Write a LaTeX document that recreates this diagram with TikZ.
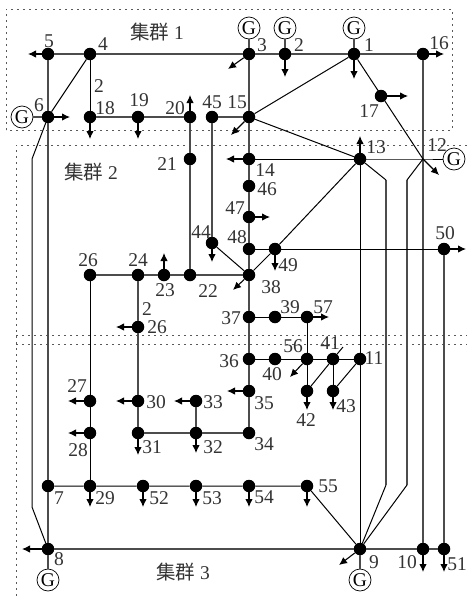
\documentclass[tikz,border=0pt]{standalone}
\usepackage{fontspec}
\setmainfont{Liberation Serif}
\newfontfamily\cjk{Noto Sans CJK SC}
\usepackage{tikz}
\usetikzlibrary{arrows.meta}

\begin{document}
\begin{tikzpicture}[x=1pt,y=-1pt,
    bus/.style={circle,fill=black,inner sep=0pt,minimum size=12.5pt},
    num/.style={inner sep=0pt,text=black!80,font=\fontsize{19.5}{19.5}\selectfont},
    area/.style={inner sep=0pt,text=black!80,font=\fontsize{19.5}{19.5}\selectfont},
    gen/.style={circle,draw=black,fill=white,line width=0.7pt,inner sep=0pt,minimum size=22pt,font=\fontsize{19.5}{19.5}\selectfont},
    main/.style={draw=black!70,line width=1.3pt},
    tie/.style={draw=black,line width=1pt},
    load/.style={draw=black,line width=1.1pt,-{Latex[length=8pt,width=7.5pt]}},
    zone/.style={draw=black!65,line width=1pt,dash pattern=on 2pt off 4pt}]
    \useasboundingbox (0,0) rectangle (468,600);

    \draw[zone] (6,130) -- (6,9) -- (452,9) -- (452,130) -- cycle;
    \draw[zone] (467,145) -- (16,145) -- (16,596);
    \draw[zone] (16,335) -- (467,335);
    \draw[zone] (16,344) -- (467,344);

    \node[bus] (b1) at (354,54) {};     \node[num] (t1) at (369,45) {1};
    \node[bus] (b2) at (285,54) {};     \node[num] (t2) at (299,45) {2};
    \node[bus] (b3) at (249,54) {};     \node[num] (t3) at (262,45) {3};
    \node[bus] (b4) at (90,54) {};      \node[num] (t4) at (103,44) {4};
    \node[bus] (b5) at (48,54) {};      \node[num] (t5) at (49,41) {5};
    \node[bus] (b6) at (48,117) {};     \node[num] (t6) at (39,105) {6};
    \node[bus] (b7) at (48,486) {};     \node[num] (t7) at (59,498) {7};
    \node[bus] (b8) at (48,549) {};     \node[num] (t8) at (59,559) {8};
    \node[bus] (b9) at (360,549) {};    \node[num] (t9) at (374,562) {9};
    \node[bus] (b10) at (423,549) {};   \node[num] (t10) at (407,562) {10};
    \node[bus] (b11) at (360,359) {};   \node[num] (t11) at (374,358) {11};
    \coordinate (b12) at (423,159);     \node[num] (t12) at (437,145) {12};
    \node[bus] (b13) at (360,159) {};   \node[num] (t13) at (376,147) {13};
    \node[bus] (b14) at (249,159) {};   \node[num] (t14) at (265,170) {14};
    \node[bus] (b15) at (249,117) {};   \node[num] (t15) at (237,102) {15};
    \node[bus] (b16) at (423,54) {};    \node[num] (t16) at (439,43) {16};
    \node[bus] (b17) at (381,96) {};    \node[num] (t17) at (369,111) {17};
    \node[bus] (b18) at (90,117) {};    \node[num] (t18) at (105,108) {18};
    \node[num] (t18a) at (99,86) {2};
    \node[bus] (b19) at (138,117) {};   \node[num] (t19) at (139,100) {19};
    \node[bus] (b20) at (190,117) {};   \node[num] (t20) at (175,108) {20};
    \node[bus] (b21) at (190,159) {};   \node[num] (t21) at (167,164) {21};
    \node[bus] (b22) at (190,275) {};   \node[num] (t22) at (208,291) {22};
    \node[bus] (b23) at (164,275) {};   \node[num] (t23) at (165,290) {23};
    \node[bus] (b24) at (138,275) {};   \node[num] (t24) at (138,260) {24};
    \node[bus] (b26) at (90,275) {};    \node[num] (t26) at (88,260) {26};
    \node[bus] (b26a) at (138,327) {};  \node[num] (t26a) at (157,327) {26};
    \node[num] (t26b) at (147,309) {2};
    \node[bus] (b27) at (90,401) {};    \node[num] (t27) at (77,386) {27};
    \node[bus] (b28) at (90,433) {};    \node[num] (t28) at (78,450) {28};
    \node[bus] (b29) at (90,486) {};    \node[num] (t29) at (105,498) {29};
    \node[bus] (b30) at (138,401) {};   \node[num] (t30) at (156,402) {30};
    \node[bus] (b31) at (138,433) {};   \node[num] (t31) at (152,447) {31};
    \node[bus] (b32) at (196,433) {};   \node[num] (t32) at (213,447) {32};
    \node[bus] (b33) at (196,401) {};   \node[num] (t33) at (213,402) {33};
    \node[bus] (b34) at (249,433) {};   \node[num] (t34) at (264,444) {34};
    \node[bus] (b35) at (249,391) {};   \node[num] (t35) at (264,403) {35};
    \node[bus] (b36) at (249,359) {};   \node[num] (t36) at (229,361) {36};
    \node[bus] (b37) at (249,317) {};   \node[num] (t37) at (231,318) {37};
    \node[bus] (b38) at (249,275) {};   \node[num] (t38) at (271,287) {38};
    \node[bus] (b39) at (275,317) {};   \node[num] (t39) at (290,307) {39};
    \node[bus] (b40) at (275,359) {};   \node[num] (t40) at (272,374) {40};
    \node[bus] (b41) at (333,359) {};   \node[num] (t41) at (330,343) {41};
    \node[bus] (b42) at (307,391) {};   \node[num] (t42) at (306,420) {42};
    \node[bus] (b43) at (333,391) {};   \node[num] (t43) at (346,406) {43};
    \node[bus] (b44) at (212,243) {};   \node[num] (t44) at (201,232) {44};
    \node[bus] (b45) at (212,117) {};   \node[num] (t45) at (212,102) {45};
    \node[bus] (b46) at (249,186) {};   \node[num] (t46) at (267,189) {46};
    \node[bus] (b47) at (249,217) {};   \node[num] (t47) at (235,208) {47};
    \node[bus] (b48) at (249,249) {};   \node[num] (t48) at (237,237) {48};
    \node[bus] (b49) at (275,249) {};   \node[num] (t49) at (288,265) {49};
    \node[bus] (b50) at (444,249) {};   \node[num] (t50) at (445,233) {50};
    \node[bus] (b51) at (444,549) {};   \node[num] (t51) at (457,564) {51};
    \node[bus] (b52) at (143,486) {};   \node[num] (t52) at (159,498) {52};
    \node[bus] (b53) at (196,486) {};   \node[num] (t53) at (212,498) {53};
    \node[bus] (b54) at (249,486) {};   \node[num] (t54) at (264,497) {54};
    \node[bus] (b55) at (307,486) {};   \node[num] (t55) at (328,486) {55};
    \node[bus] (b56) at (307,359) {};   \node[num] (t56) at (293,346) {56};
    \node[bus] (b57) at (307,317) {};   \node[num] (t57) at (323,307) {57};

    \node[gen] (g1) at (354,28) {G};
    \node[gen] (g2) at (285,28) {G};
    \node[gen] (g3) at (249,28) {G};
    \node[gen] (g6) at (22,117) {G};
    \node[gen] (g8) at (48,580) {G};
    \node[gen] (g9) at (360,580) {G};
    \node[gen] (g12) at (454,159) {G};

    \node[area] (c1) at (157,32) {{\cjk 集群} 1};
    \node[area] (c2) at (91,172) {{\cjk 集群} 2};
    \node[area] (c3) at (183,572) {{\cjk 集群} 3};

    \coordinate (k6a) at (32,159);
    \coordinate (k6b) at (32,507);
    \coordinate (k13a) at (386,180);
    \coordinate (k13b) at (386,485);
    \coordinate (k12a) at (407,180);
    \coordinate (k12b) at (407,485);

    \draw[main] (g1) -- (b1);
    \draw[main] (g2) -- (b2);
    \draw[main] (g3) -- (b3);
    \draw[main] (g6) -- (b6);
    \draw[main] (g8) -- (b8);
    \draw[main] (g9) -- (b9);
    \draw[main] (b5) -- (b4) -- (b3) -- (b2) -- (b1) -- (b16);
    \draw[main] (b5) -- (b6) -- (b7) -- (b8) -- (b9) -- (b10) -- (b51);
    \draw[main] (b18) -- (b19) -- (b20);
    \draw[main] (b45) -- (b15);
    \draw[main] (b20) -- (b21) -- (b22);
    \draw[main] (b45) -- (b44);
    \draw[main] (b3) -- (b15) -- (b14) -- (b46) -- (b47) -- (b48) -- (b38) -- (b37) -- (b36) -- (b35) -- (b34);
    \draw[main] (b16) -- (b12) -- (b10);
    \draw[main] (b50) -- (b51);
    \draw[main] (b26) -- (b24) -- (b23) -- (b22) -- (b38);
    \draw[main] (b24) -- (b26a) -- (b30) -- (b31) -- (b32) -- (b34);
    \draw[main] (b33) -- (b32);
    \draw[main] (k13a) -- (k13b);
    \draw[main] (k12a) -- (k12b);
    \draw[tie] (b13) -- (k13a);
    \draw[tie] (b12) -- (k12a);
    \draw[tie] (k13b) -- (b9);
    \draw[tie] (k12b) -- (b9);
    \draw[tie] (b4) -- (b6);
    \draw[tie] (b4) -- (b18);
    \draw[tie] (b6) -- (k6a) -- (k6b) -- (b8);
    \draw[tie] (b1) -- (b15) -- (b13);
    \draw[tie] (b1) -- (b12);
    \draw[tie] (b14) -- (b13) -- (b12) -- (g12);
    \draw[tie] (b13) -- (b9);
    \draw[tie] (b13) -- (b49) -- (b38);
    \draw[tie] (b44) -- (b38);
    \draw[tie] (b48) -- (b49) -- (b50);
    \draw[tie] (b37) -- (b39) -- (b57) -- (b56) -- (b42);
    \draw[tie] (b36) -- (b40) -- (b56) -- (b41) -- (b11);
    \draw[tie] (b41) -- (b43);
    \draw[tie] (b41) -- (b42);
    \draw[tie] (b11) -- (b43);
    \draw[tie] (b26) -- (b27) -- (b28) -- (b29);
    \draw[tie] (b7) -- (b29) -- (b52) -- (b53) -- (b54) -- (b55) -- (b9);

    \coordinate (a1) at (354,79);       \draw[load] (b1) -- (a1);
    \coordinate (a2) at (285,77);       \draw[load] (b2) -- (a2);
    \coordinate (a3) at (228,69);       \draw[load] (b3) -- (a3);
    \coordinate (a5) at (28,54);        \draw[load] (b5) -- (a5);
    \coordinate (a6) at (70,117);       \draw[load] (b6) -- (a6);
    \coordinate (a8) at (22,549);       \draw[load] (b8) -- (a8);
    \coordinate (a9) at (339,565);      \draw[load] (b9) -- (a9);
    \coordinate (a10) at (423,572);     \draw[load] (b10) -- (a10);
    \coordinate (a12) at (439,175);     \draw[load] (b12) -- (a12);
    \coordinate (a13) at (360,136);     \draw[load] (b13) -- (a13);
    \coordinate (a14) at (226,159);     \draw[load] (b14) -- (a14);
    \coordinate (a15) at (231,135);     \draw[load] (b15) -- (a15);
    \coordinate (a16) at (444,54);      \draw[load] (b16) -- (a16);
    \coordinate (a17) at (408,96);      \draw[load] (b17) -- (a17);
    \coordinate (a18) at (90,139);      \draw[load] (b18) -- (a18);
    \coordinate (a19) at (138,139);     \draw[load] (b19) -- (a19);
    \coordinate (a20) at (190,95);      \draw[load] (b20) -- (a20);
    \coordinate (a23) at (164,253);     \draw[load] (b23) -- (a23);
    \coordinate (a26) at (116,327);     \draw[load] (b26a) -- (a26);
    \coordinate (a27) at (68,401);      \draw[load] (b27) -- (a27);
    \coordinate (a28) at (68,433);      \draw[load] (b28) -- (a28);
    \coordinate (a29) at (90,507);      \draw[load] (b29) -- (a29);
    \coordinate (a30) at (116,401);     \draw[load] (b30) -- (a30);
    \coordinate (a31) at (138,455);     \draw[load] (b31) -- (a31);
    \coordinate (a32) at (196,453);     \draw[load] (b32) -- (a32);
    \coordinate (a33) at (174,401);     \draw[load] (b33) -- (a33);
    \coordinate (a35) at (227,391);     \draw[load] (b35) -- (a35);
    \coordinate (a38) at (233,290);     \draw[load] (b38) -- (a38);
    \coordinate (a42) at (307,410);     \draw[load] (b42) -- (a42);
    \coordinate (a43) at (333,410);     \draw[load] (b43) -- (a43);
    \coordinate (a44) at (212,262);     \draw[load] (b44) -- (a44);
    \coordinate (a47) at (270,217);     \draw[load] (b47) -- (a47);
    \coordinate (a49) at (275,271);     \draw[load] (b49) -- (a49);
    \coordinate (a50) at (466,249);     \draw[load] (b50) -- (a50);
    \coordinate (a51) at (444,572);     \draw[load] (b51) -- (a51);
    \coordinate (a52) at (143,507);     \draw[load] (b52) -- (a52);
    \coordinate (a53) at (196,507);     \draw[load] (b53) -- (a53);
    \coordinate (a54) at (249,507);     \draw[load] (b54) -- (a54);
    \coordinate (a55) at (307,507);     \draw[load] (b55) -- (a55);
    \coordinate (a56) at (290,377);     \draw[load] (b56) -- (a56);
    \coordinate (a57) at (329,317);     \draw[load] (b57) -- (a57);
    \coordinate (e41) at (343,347);     \draw[tie] (b41) -- (e41);
\end{tikzpicture}
\end{document}
